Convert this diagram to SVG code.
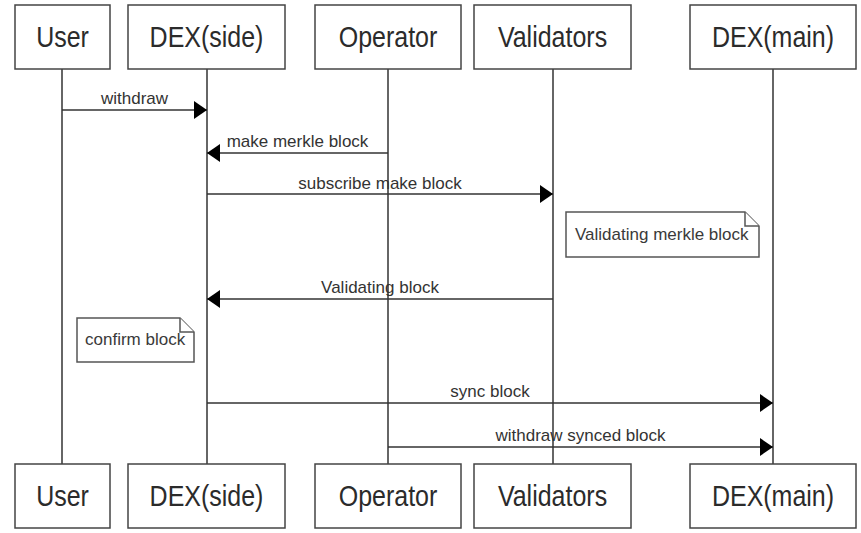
<svg xmlns="http://www.w3.org/2000/svg" width="861" height="533" viewBox="0 0 861 533">
  <style>
    .box { fill: #ffffff; stroke: #444444; stroke-width: 1.5; }
    .head { font-family: "Liberation Sans", Arial, sans-serif; font-size: 25px; fill: #2b2b2b; text-anchor: middle; }
    .life { stroke: #333333; stroke-width: 1.5; fill: none; }
    .msg { stroke: #333333; stroke-width: 1.5; fill: none; }
    .lbl { font-family: "Liberation Sans", Arial, sans-serif; font-size: 17px; fill: #333333; text-anchor: middle; }
    .note { fill: #ffffff; stroke: #555555; stroke-width: 1.5; }
    .ntxt { font-family: "Liberation Sans", Arial, sans-serif; font-size: 17px; fill: #3a3a3a; }
  </style>
  <defs>
    <marker id="arrow" markerUnits="userSpaceOnUse" markerWidth="14" markerHeight="20" refX="13" refY="10" orient="auto">
      <path d="M0,1 L13,10 L0,19 Z" fill="#000000"/>
    </marker>
  </defs>
  <rect x="0" y="0" width="861" height="533" fill="#ffffff"/>

  <!-- lifelines -->
  <g id="lifelines">
    <line class="life" x1="62" y1="69" x2="62" y2="464"/>
    <line class="life" x1="207" y1="69" x2="207" y2="464"/>
    <line class="life" x1="388" y1="69" x2="388" y2="464"/>
    <line class="life" x1="553" y1="69" x2="553" y2="464"/>
    <line class="life" x1="773" y1="69" x2="773" y2="464"/>
  </g>

  <!-- participants, top (labels slightly stretched vertically) -->
  <g id="user-top"><rect class="box" x="15" y="5" width="95" height="64"/><text class="head" transform="translate(62.5,47) scale(1,1.17)">User</text></g>
  <g id="dexside-top"><rect class="box" x="128" y="5" width="157" height="64"/><text class="head" transform="translate(206.5,47) scale(1,1.17)">DEX(side)</text></g>
  <g id="operator-top"><rect class="box" x="315" y="5" width="146" height="64"/><text class="head" transform="translate(388,47) scale(1,1.17)">Operator</text></g>
  <g id="validators-top"><rect class="box" x="474" y="5" width="157" height="64"/><text class="head" transform="translate(552.5,47) scale(1,1.17)">Validators</text></g>
  <g id="dexmain-top"><rect class="box" x="690" y="5" width="166" height="64"/><text class="head" transform="translate(773,47) scale(1,1.17)">DEX(main)</text></g>

  <!-- participants, bottom -->
  <g id="user-bottom"><rect class="box" x="15" y="464" width="95" height="64"/><text class="head" transform="translate(62.5,506) scale(1,1.17)">User</text></g>
  <g id="dexside-bottom"><rect class="box" x="128" y="464" width="157" height="64"/><text class="head" transform="translate(206.5,506) scale(1,1.17)">DEX(side)</text></g>
  <g id="operator-bottom"><rect class="box" x="315" y="464" width="146" height="64"/><text class="head" transform="translate(388,506) scale(1,1.17)">Operator</text></g>
  <g id="validators-bottom"><rect class="box" x="474" y="464" width="157" height="64"/><text class="head" transform="translate(552.5,506) scale(1,1.17)">Validators</text></g>
  <g id="dexmain-bottom"><rect class="box" x="690" y="464" width="166" height="64"/><text class="head" transform="translate(773,506) scale(1,1.17)">DEX(main)</text></g>

  <!-- notes -->
  <g id="note-validating">
    <path class="note" d="M566,212 L745,212 L759,226 L759,257 L566,257 Z"/>
    <path class="note" d="M745,212 L745,226 L759,226" fill="none"/>
    <text class="ntxt" x="575" y="240">Validating merkle block</text>
  </g>
  <g id="note-confirm">
    <path class="note" d="M77,318 L180,318 L194,332 L194,362 L77,362 Z"/>
    <path class="note" d="M180,318 L180,332 L194,332" fill="none"/>
    <text class="ntxt" x="85" y="345">confirm block</text>
  </g>

  <!-- messages -->
  <g id="messages">
    <line class="msg" x1="62" y1="110" x2="207" y2="110" marker-end="url(#arrow)"/>
    <text class="lbl" x="134.5" y="104">withdraw</text>

    <line class="msg" x1="388" y1="153" x2="207" y2="153" marker-end="url(#arrow)"/>
    <text class="lbl" x="297.5" y="147">make merkle block</text>

    <line class="msg" x1="207" y1="194" x2="553" y2="194" marker-end="url(#arrow)"/>
    <text class="lbl" x="380" y="189">subscribe make block</text>

    <line class="msg" x1="553" y1="299" x2="207" y2="299" marker-end="url(#arrow)"/>
    <text class="lbl" x="380" y="293">Validating block</text>

    <line class="msg" x1="207" y1="403" x2="773" y2="403" marker-end="url(#arrow)"/>
    <text class="lbl" x="490" y="397">sync block</text>

    <line class="msg" x1="388" y1="447" x2="773" y2="447" marker-end="url(#arrow)"/>
    <text class="lbl" x="580.5" y="441">withdraw synced block</text>
  </g>
</svg>
